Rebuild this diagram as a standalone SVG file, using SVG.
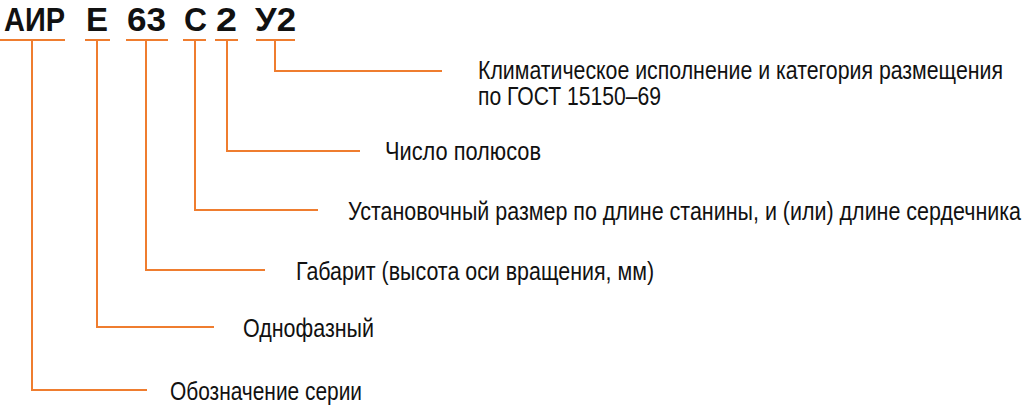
<svg xmlns="http://www.w3.org/2000/svg" width="1024" height="405" viewBox="0 0 1024 405">
<style>
.code{font-family:"Liberation Sans",Arial,sans-serif;font-weight:bold;font-size:34px;fill:#111}
.lbl{font-family:"Liberation Sans",Arial,sans-serif;font-size:25px;fill:#111}
.ln{stroke:#EF7D2F;stroke-width:2;fill:none}
</style>
<rect width="1024" height="405" fill="#fff"/>
<g id="code">
<text class="code" x="4" y="31" textLength="61" lengthAdjust="spacingAndGlyphs">АИР</text>
<text class="code" x="86" y="31" textLength="22" lengthAdjust="spacingAndGlyphs">Е</text>
<text class="code" x="127" y="31" textLength="39" lengthAdjust="spacingAndGlyphs">63</text>
<text class="code" x="184" y="31" textLength="23" lengthAdjust="spacingAndGlyphs">С</text>
<text class="code" x="216" y="31" textLength="21" lengthAdjust="spacingAndGlyphs">2</text>
<text class="code" x="255" y="31" textLength="41" lengthAdjust="spacingAndGlyphs">У2</text>
</g>
<g id="connectors">
<path class="ln" d="M0 40H65M32 40V390H147"/>
<path class="ln" d="M85 40H110M97 40V327H214"/>
<path class="ln" d="M126 40H168M146 40V270H265"/>
<path class="ln" d="M183 40H206M195 40V210H318"/>
<path class="ln" d="M215 40H238M227 40V151H360"/>
<path class="ln" d="M256 40H295M275 40V71H442"/>
</g>
<g id="n-climate">
<g transform="translate(478,79) scale(0.85,1)"><text class="lbl" x="0" y="0" textLength="617.6" lengthAdjust="spacingAndGlyphs">Климатическое исполнение и категория размещения</text></g>
<g transform="translate(478,105) scale(0.85,1)"><text class="lbl" x="0" y="0" textLength="215.3" lengthAdjust="spacingAndGlyphs">по ГОСТ 15150–69</text></g>
</g>
<g id="n-poles"><g transform="translate(385,160) scale(0.85,1)"><text class="lbl" x="0" y="0" textLength="183.5" lengthAdjust="spacingAndGlyphs">Число полюсов</text></g></g>
<g id="n-mount"><g transform="translate(348,220) scale(0.85,1)"><text class="lbl" x="0" y="0" textLength="791.8" lengthAdjust="spacingAndGlyphs">Установочный размер по длине станины, и (или) длине сердечника</text></g></g>
<g id="n-size"><g transform="translate(296,280) scale(0.85,1)"><text class="lbl" x="0" y="0" textLength="421.2" lengthAdjust="spacingAndGlyphs">Габарит (высота оси вращения, мм)</text></g></g>
<g id="n-phase"><g transform="translate(243,337) scale(0.85,1)"><text class="lbl" x="0" y="0" textLength="154.1" lengthAdjust="spacingAndGlyphs">Однофазный</text></g></g>
<g id="n-series"><g transform="translate(170,400) scale(0.85,1)"><text class="lbl" x="0" y="0" textLength="225.9" lengthAdjust="spacingAndGlyphs">Обозначение серии</text></g></g>
</svg>
